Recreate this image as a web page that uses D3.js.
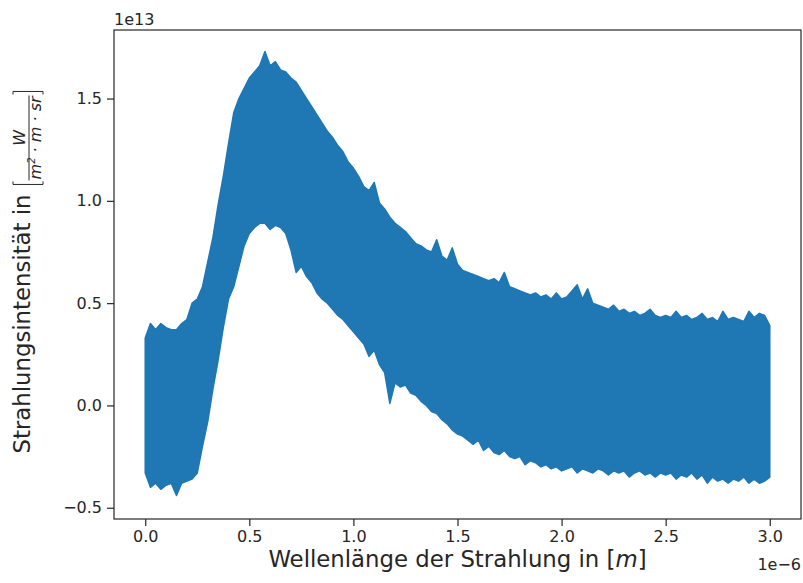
<!DOCTYPE html>
<html>
<head>
<meta charset="utf-8">
<script src="https://cdn.jsdelivr.net/npm/d3@7"></script>
<style>
  body { margin: 0; background: #fff; }
  svg { display: block; }
  text { font-family: "DejaVu Sans", sans-serif; fill: #262626; }
  .axis path, .axis line { stroke: #262626; }
</style>
</head>
<body>
<svg id="chart" width="803" height="583"></svg>
<script>
// wavelength samples in units of 1e-6 m (every 0.025)
var lambdaStart = 0, lambdaStep = 0.025;

// upper edge of the noisy band, units of 1e13
var upperEdge = [
  0.33, 0.40, 0.37, 0.40, 0.38, 0.37, 0.37, 0.40, 0.42, 0.50,
  0.52, 0.58, 0.70, 0.82, 0.98, 1.12, 1.28, 1.43, 1.50, 1.55,
  1.60, 1.63, 1.66, 1.73, 1.66, 1.68, 1.64, 1.63, 1.60, 1.58,
  1.54, 1.50, 1.46, 1.42, 1.38, 1.34, 1.31, 1.27, 1.24, 1.19,
  1.16, 1.12, 1.07, 1.05, 1.09, 0.99, 0.96, 0.92, 0.89, 0.87,
  0.85, 0.82, 0.79, 0.78, 0.76, 0.75, 0.81, 0.73, 0.71, 0.77,
  0.69, 0.66, 0.65, 0.64, 0.63, 0.62, 0.61, 0.62, 0.60, 0.65,
  0.58, 0.57, 0.56, 0.55, 0.54, 0.55, 0.53, 0.54, 0.52, 0.55,
  0.52, 0.53, 0.56, 0.59, 0.52, 0.57, 0.50, 0.49, 0.48, 0.47,
  0.49, 0.46, 0.47, 0.45, 0.46, 0.44, 0.45, 0.47, 0.44, 0.43,
  0.44, 0.43, 0.46, 0.43, 0.44, 0.42, 0.43, 0.45, 0.42, 0.43,
  0.41, 0.46, 0.42, 0.43, 0.42, 0.41, 0.46, 0.43, 0.45, 0.44,
  0.39
];

// lower edge of the noisy band, units of 1e13
var lowerEdge = [
  -0.33, -0.40, -0.38, -0.41, -0.39, -0.38, -0.44, -0.38, -0.37, -0.36,
  -0.33, -0.20, -0.08, 0.08, 0.22, 0.38, 0.52, 0.58, 0.68, 0.78,
  0.84, 0.87, 0.89, 0.89, 0.86, 0.88, 0.87, 0.84, 0.76, 0.65,
  0.68, 0.63, 0.60, 0.55, 0.52, 0.50, 0.47, 0.44, 0.42, 0.39,
  0.36, 0.33, 0.30, 0.24, 0.27, 0.20, 0.16, 0.01, 0.11, 0.09,
  0.10, 0.06, 0.05, 0.02, 0.00, -0.03, -0.04, -0.07, -0.09, -0.12,
  -0.14, -0.15, -0.17, -0.19, -0.17, -0.22, -0.20, -0.23, -0.24, -0.22,
  -0.25, -0.26, -0.25, -0.29, -0.27, -0.28, -0.30, -0.29, -0.31, -0.30,
  -0.32, -0.31, -0.30, -0.33, -0.31, -0.32, -0.33, -0.31, -0.32, -0.34,
  -0.32, -0.33, -0.32, -0.35, -0.33, -0.32, -0.34, -0.33, -0.35, -0.33,
  -0.34, -0.33, -0.36, -0.34, -0.35, -0.33, -0.36, -0.34, -0.38, -0.35,
  -0.37, -0.36, -0.38, -0.36, -0.37, -0.35, -0.38, -0.36, -0.38, -0.37,
  -0.35
];

var xTicks = [0.0, 0.5, 1.0, 1.5, 2.0, 2.5, 3.0];
var yTicks = [-0.5, 0.0, 0.5, 1.0, 1.5];

var margin = {left: 114, top: 30, right: 2, bottom: 64};
var W = 803, H = 583;
var pw = W - margin.left - margin.right;
var ph = H - margin.top - margin.bottom;

var svg = d3.select("#chart");
var g = svg.append("g").attr("transform", "translate(" + margin.left + "," + margin.top + ")");

var x = d3.scaleLinear().domain([-0.15, 3.15]).range([0, pw]);
var y = d3.scaleLinear().domain([-0.555, 1.835]).range([ph, 0]);

var band = upperEdge.map(function(u, i){
    return {lam: lambdaStart + i * lambdaStep, hi: u, lo: lowerEdge[i]};
});

var area = d3.area()
    .x(function(d){ return x(d.lam); })
    .y0(function(d){ return y(d.lo); })
    .y1(function(d){ return y(d.hi); });

g.append("path")
    .datum(band)
    .attr("d", area)
    .attr("fill", "#1f77b4")
    .attr("stroke", "#1f77b4")
    .attr("stroke-width", 1.5)
    .attr("stroke-linejoin", "round");

// axes
var fmt = d3.format(".1f");
var xAxis = g.append("g").attr("class", "axis")
    .attr("transform", "translate(0," + ph + ")")
    .call(d3.axisBottom(x).tickValues(xTicks).tickFormat(fmt).tickSize(7).tickPadding(5).tickSizeOuter(0));
var yAxis = g.append("g").attr("class", "axis")
    .call(d3.axisLeft(y).tickValues(yTicks).tickFormat(fmt).tickSize(7).tickPadding(5).tickSizeOuter(0));

[xAxis, yAxis].forEach(function(a){
    a.select(".domain").remove();
    a.selectAll("line").attr("stroke-width", 1.2);
    a.selectAll("text").style("font-size", "16px").attr("fill", "#262626");
});

// frame
g.append("rect")
    .attr("width", pw).attr("height", ph)
    .attr("fill", "none").attr("stroke", "#262626").attr("stroke-width", 1.2);

// offset labels
g.append("text").attr("x", 0).attr("y", -5).style("font-size", "16px").text("1e13");
g.append("text").attr("x", pw).attr("y", ph + 51).attr("text-anchor", "end")
    .style("font-size", "16px").text("1e\u22126");

// x label
var xl = svg.append("text")
    .attr("x", margin.left + pw / 2).attr("y", 567)
    .attr("text-anchor", "middle")
    .style("font-size", "22.8px");
xl.append("tspan").text("Wellenlänge der Strahlung in [");
xl.append("tspan").style("font-style", "italic").text("m");
xl.append("tspan").text("]");

// y label with fraction unit
var yl = svg.append("g").attr("transform", "translate(30," + (margin.top + ph / 2) + ") rotate(-90)");
var yt = yl.append("text").attr("x", -179).attr("y", 0).style("font-size", "22.8px")
    .text("Strahlungsintensität in");
var tx = -179 + yt.node().getComputedTextLength() + 10;

var num = yl.append("text").attr("y", -5).style("font-size", "16px").style("font-style", "italic")
    .attr("text-anchor", "middle").text("W");
var den = yl.append("text").attr("y", 11).style("font-size", "16px").style("font-style", "italic")
    .attr("text-anchor", "middle");
den.append("tspan").text("m");
den.append("tspan").attr("dy", -6).style("font-size", "10px").text("2");
den.append("tspan").attr("dy", 6).text(" \u00b7 m \u00b7 sr");
var denW = den.node().getComputedTextLength();
var fx = tx + 5 + denW / 2;
num.attr("x", fx);
den.attr("x", fx);
yl.append("line").attr("x1", tx + 4).attr("x2", tx + 6 + denW)
    .attr("y1", -1).attr("y2", -1).attr("stroke", "#262626").attr("stroke-width", 1);
function bracket(x0, dir){
    var top = -17, bot = 13;
    yl.append("path")
      .attr("d", "M" + (x0 + dir * 3) + "," + top + " H" + x0 + " V" + bot + " H" + (x0 + dir * 3))
      .attr("fill", "none").attr("stroke", "#262626").attr("stroke-width", 1);
}
bracket(tx, 1);
bracket(tx + 10 + denW, -1);
</script>
</body>
</html>
